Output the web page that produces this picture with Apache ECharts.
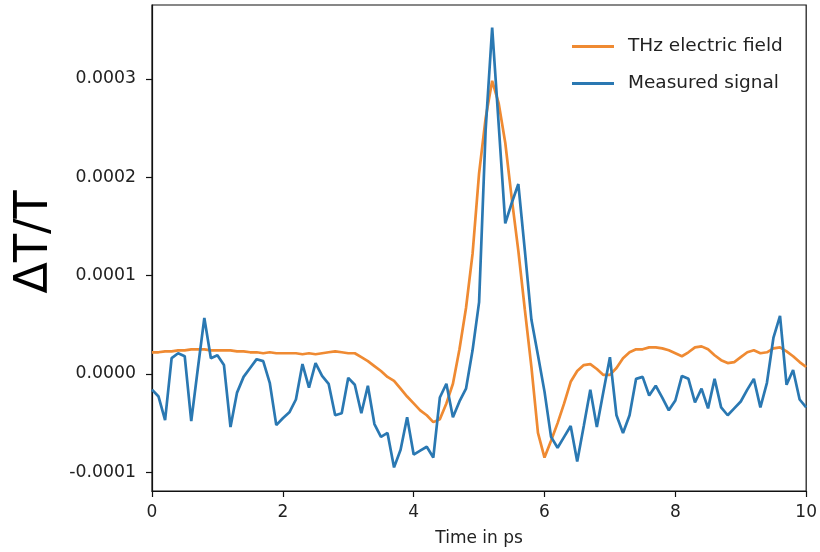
<!DOCTYPE html>
<html>
<head>
<meta charset="utf-8">
<script src="https://cdn.jsdelivr.net/npm/echarts@6/dist/echarts.min.js"></script>
<style>
html,body{margin:0;padding:0;background:#ffffff;}
#chart{width:820px;height:552px;}
</style>
</head>
<body>
<div id="chart"></div>
<script>
// Time axis (ps)
var times = [0,0.1,0.2,0.3,0.4,0.5,0.6,0.7,0.8,0.9,1,1.1,1.2,1.3,1.4,1.5,1.6,1.7,1.8,1.9,2,2.1,2.2,2.3,2.4,2.5,2.6,2.7,2.8,2.9,3,3.1,3.2,3.3,3.4,3.5,3.6,3.7,3.8,3.9,4,4.1,4.2,4.3,4.4,4.5,4.6,4.7,4.8,4.9,5,5.1,5.2,5.3,5.4,5.5,5.6,5.7,5.8,5.9,6,6.1,6.2,6.3,6.4,6.5,6.6,6.7,6.8,6.9,7,7.1,7.2,7.3,7.4,7.5,7.6,7.7,7.8,7.9,8,8.1,8.2,8.3,8.4,8.5,8.6,8.7,8.8,8.9,9,9.1,9.2,9.3,9.4,9.5,9.6,9.7,9.8,9.9,10];

// THz electric field
var thzField = [2.2e-5,2.2e-5,2.3e-5,2.3e-5,2.4e-5,2.4e-5,2.5e-5,2.5e-5,2.5e-5,2.4e-5,
  2.4e-5,2.4e-5,2.4e-5,2.3e-5,2.3e-5,2.2e-5,2.2e-5,2.1e-5,2.2e-5,2.1e-5,
  2.1e-5,2.1e-5,2.1e-5,2.0e-5,2.1e-5,2.0e-5,2.1e-5,2.2e-5,2.3e-5,2.2e-5,
  2.1e-5,2.1e-5,1.7e-5,1.3e-5,0.8e-5,0.3e-5,-0.3e-5,-0.7e-5,-1.5e-5,-2.3e-5,
  -3.0e-5,-3.7e-5,-4.2e-5,-4.9e-5,-4.6e-5,-3.0e-5,-1.0e-5,2.5e-5,6.7e-5,12.2e-5,
  20.4e-5,26.0e-5,29.8e-5,27.5e-5,23.5e-5,17.8e-5,12.5e-5,6.5e-5,0.7e-5,-6.0e-5,
  -8.5e-5,-6.8e-5,-5.0e-5,-3.0e-5,-0.8e-5,0.3e-5,0.9e-5,1.0e-5,0.5e-5,-0.1e-5,
  -0.1e-5,0.6e-5,1.6e-5,2.2e-5,2.5e-5,2.5e-5,2.7e-5,2.7e-5,2.6e-5,2.4e-5,
  2.1e-5,1.8e-5,2.2e-5,2.7e-5,2.8e-5,2.5e-5,1.9e-5,1.4e-5,1.1e-5,1.2e-5,
  1.7e-5,2.2e-5,2.4e-5,2.1e-5,2.2e-5,2.6e-5,2.7e-5,2.3e-5,1.8e-5,1.2e-5,0.7e-5];

// Measured signal
var measured = [-1.6e-5,-2.3e-5,-4.7e-5,1.6e-5,2.1e-5,1.8e-5,-4.8e-5,0.5e-5,5.7e-5,1.6e-5,
  1.9e-5,0.9e-5,-5.4e-5,-1.9e-5,-0.3e-5,0.6e-5,1.5e-5,1.3e-5,-0.9e-5,-5.2e-5,
  -4.5e-5,-3.9e-5,-2.6e-5,1.0e-5,-1.4e-5,1.1e-5,-0.2e-5,-1.0e-5,-4.2e-5,-4.0e-5,
  -0.4e-5,-1.1e-5,-4.0e-5,-1.2e-5,-5.1e-5,-6.4e-5,-6.0e-5,-9.5e-5,-7.7e-5,-4.4e-5,
  -8.2e-5,-7.8e-5,-7.4e-5,-8.5e-5,-2.4e-5,-1.0e-5,-4.4e-5,-2.8e-5,-1.5e-5,2.4e-5,
  7.3e-5,24.8e-5,35.2e-5,25.3e-5,15.3e-5,17.4e-5,19.3e-5,12.5e-5,5.5e-5,1.9e-5,
  -1.8e-5,-6.4e-5,-7.5e-5,-6.4e-5,-5.3e-5,-8.9e-5,-5.3e-5,-1.6e-5,-5.4e-5,-1.8e-5,
  1.7e-5,-4.2e-5,-6.0e-5,-4.2e-5,-0.5e-5,-0.3e-5,-2.2e-5,-1.2e-5,-2.4e-5,-3.7e-5,
  -2.7e-5,-0.2e-5,-0.5e-5,-2.9e-5,-1.5e-5,-3.5e-5,-0.5e-5,-3.4e-5,-4.2e-5,-3.5e-5,
  -2.8e-5,-1.6e-5,-0.5e-5,-3.4e-5,-0.9e-5,3.7e-5,5.9e-5,-1.1e-5,0.4e-5,-2.6e-5,-3.4e-5];

var yTicks = [-0.0001, 0, 0.0001, 0.0002, 0.0003];
var xTicks = [0, 2, 4, 6, 8, 10];
var seriesNames = ['THz electric field', 'Measured signal'];

function pairs(xs, ys) {
  var out = [];
  for (var i = 0; i < xs.length; i++) out.push([xs[i], ys[i]]);
  return out;
}

var FONT = "'DejaVu Sans', sans-serif";
var chart = echarts.init(document.getElementById('chart'), null, {renderer: 'canvas'});
chart.setOption({
  animation: false,
  backgroundColor: '#ffffff',
  grid: {left: 152, right: 13, top: 5, bottom: 61, show: true, borderColor: '#111', borderWidth: 1.2, backgroundColor: 'transparent'},
  legend: {
    data: seriesNames,
    orient: 'vertical',
    left: 567,
    top: 31,
    icon: 'rect',
    itemWidth: 42,
    itemHeight: 3,
    itemGap: 16,
    textStyle: {fontFamily: FONT, fontSize: 18.5, color: '#222', padding: [0, 0, 0, 9], lineHeight: 21}
  },
  xAxis: {
    type: 'value', min: 0, max: 10, interval: 2,
    name: 'Time in ps', nameLocation: 'middle', nameGap: 39,
    nameTextStyle: {fontFamily: FONT, fontSize: 17, color: '#222'},
    axisLine: {show: true, onZero: false, lineStyle: {color: '#111', width: 1.2}},
    axisTick: {show: true, inside: false, length: 6, lineStyle: {color: '#111', width: 1.2}},
    axisLabel: {fontFamily: FONT, fontSize: 17, color: '#222', margin: 13,
      customValues: xTicks, formatter: function (v) { return String(v); }},
    splitLine: {show: false}
  },
  yAxis: {
    type: 'value', min: -0.000119, max: 0.000375,
    name: 'ΔT/T', nameLocation: 'middle', nameRotate: 90, nameGap: 94,
    nameTextStyle: {fontFamily: FONT, fontSize: 46, color: '#000', padding: [0, 0, 0, 12]},
    axisLine: {show: true, onZero: false, lineStyle: {color: '#111', width: 1.2}},
    axisTick: {show: true, inside: false, length: 6, customValues: yTicks, lineStyle: {color: '#111', width: 1.2}},
    axisLabel: {fontFamily: FONT, fontSize: 17.3, color: '#222', margin: 16,
      customValues: yTicks, formatter: function (v) { return v.toFixed(4); }},
    splitLine: {show: false}
  },
  series: [
    {name: seriesNames[0], type: 'line', data: pairs(times, thzField), showSymbol: false,
      lineStyle: {color: '#ef8a32', width: 2.7}, itemStyle: {color: '#ef8a32'}},
    {name: seriesNames[1], type: 'line', data: pairs(times, measured), showSymbol: false,
      lineStyle: {color: '#2a78b2', width: 2.7}, itemStyle: {color: '#2a78b2'}}
  ]
});
</script>
</body>
</html>
